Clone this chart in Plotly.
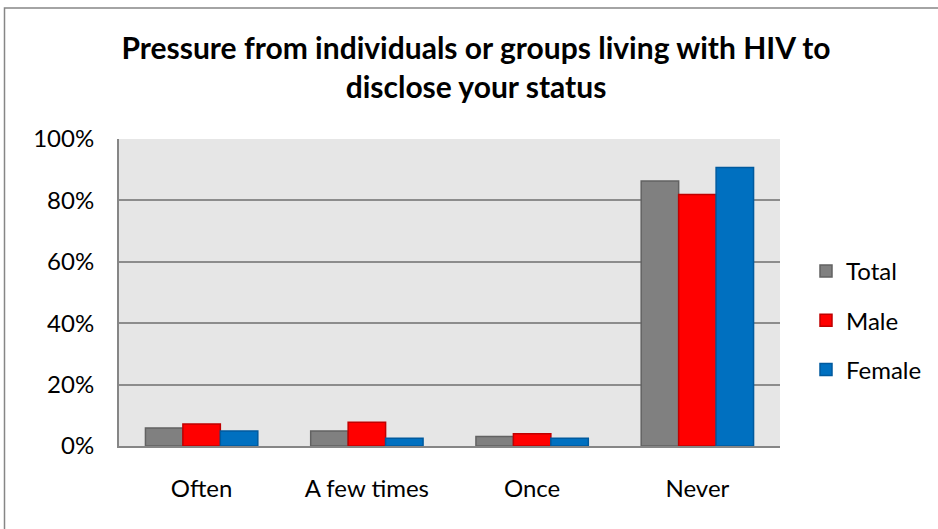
import plotly.graph_objects as go

categories = ["Often", "A few times", "Once", "Never"]
total = [0.059, 0.049, 0.031, 0.863]
male = [0.072, 0.077, 0.040, 0.819]
female = [0.049, 0.025, 0.025, 0.907]
y_ticks = [0, 0.2, 0.4, 0.6, 0.8, 1.0]

W, H = 938, 529
L, R, T, B = 119, 780, 138.5, 445.7

fig = go.Figure()
series = [("Total", total, "#808080", "#626262"),
          ("Male", male, "#FF0000", "#C00000"),
          ("Female", female, "#0070C0", "#005A9E")]
for name, vals, col, lc in series:
    fig.add_trace(go.Bar(x=categories, y=vals, name=name, legendgroup=name,
                         marker=dict(color=col, line=dict(color=lc, width=1.5))))

font_family = "Lato, 'Open Sans', sans-serif"
pw, ph = R - L, B - T
fig.update_layout(
    width=W, height=H,
    margin=dict(l=L, r=W - R, t=T, b=H - B, pad=0, autoexpand=False),
    paper_bgcolor="white", plot_bgcolor="#E6E6E6",
    barmode="group", bargap=0.32, bargroupgap=0,
    font=dict(family=font_family, size=24, color="black"),
    title=dict(text="<b>Pressure from individuals or groups living with HIV to<br>disclose your status</b>",
               x=476 / W, xanchor="center", y=1 - 59 / H, yanchor="middle",
               font=dict(size=30, family=font_family, color="black")),
    legend=dict(x=(806 - L) / pw, xanchor="left", y=(B - 320) / ph, yanchor="middle",
                font=dict(size=24), tracegroupgap=15, bgcolor="rgba(0,0,0,0)"),
    xaxis=dict(showline=True, linecolor="#868686", linewidth=2, showgrid=False,
               ticks="", ticklabelstandoff=20, tickfont=dict(size=24)),
    yaxis=dict(range=[0, 1], tickvals=y_ticks, tickformat=".0%", showline=True,
               linecolor="#868686", linewidth=2, showgrid=True, gridcolor="#8C8C8C",
               gridwidth=1.5, zeroline=False, ticks="", ticklabelstandoff=18,
               tickfont=dict(size=24)),
    shapes=[dict(type="rect", xref="paper", yref="paper",
                 x0=(4.5 - L) / pw, x1=(960 - L) / pw,
                 y0=(B - 560) / ph, y1=(B - 7.5) / ph,
                 line=dict(color="#868686", width=1.5), fillcolor="rgba(0,0,0,0)", layer="below")],
)

fig.write_html("out.html", config={"displayModeBar": False},
               post_script="document.body.style.margin='0';document.body.style.padding='0';")
